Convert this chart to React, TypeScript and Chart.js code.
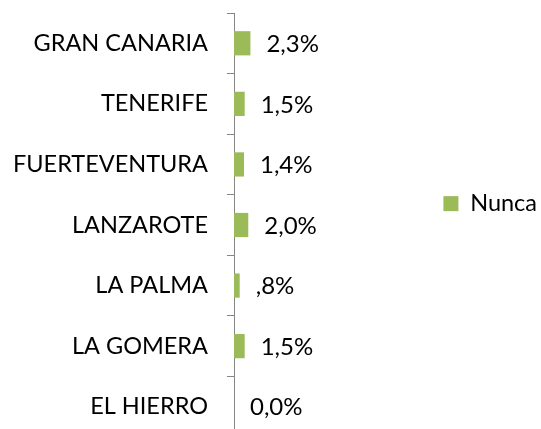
import React, { useEffect, useRef } from "react";
import { Chart, registerables } from "chart.js";

Chart.register(...registerables);

const categories = ["GRAN CANARIA", "TENERIFE", "FUERTEVENTURA", "LANZAROTE", "LA PALMA", "LA GOMERA", "EL HIERRO"];
const nuncaValues = [2.3, 1.5, 1.4, 2.0, 0.8, 1.5, 0.0];
const valueLabels = ["2,3%", "1,5%", "1,4%", "2,0%", ",8%", "1,5%", "0,0%"];
const seriesName = "Nunca";

const FONT = "Lato";

const dataLabelPlugin = {
  id: "valueLabels",
  afterDatasetsDraw(chart: any) {
    const ctx = chart.ctx;
    const meta = chart.getDatasetMeta(0);
    ctx.save();
    ctx.font = `24px ${FONT}`;
    ctx.fillStyle = "#000";
    ctx.textAlign = "left";
    ctx.textBaseline = "middle";
    meta.data.forEach((bar: any, i: number) => {
      ctx.fillText(valueLabels[i], bar.x + 16, bar.y + 1);
    });
    ctx.restore();
  },
};

export default function App() {
  const ref = useRef<HTMLCanvasElement>(null);
  useEffect(() => {
    const chart = new Chart(ref.current!, {
      type: "bar",
      data: {
        labels: categories,
        datasets: [
          {
            label: seriesName,
            data: nuncaValues,
            backgroundColor: "#9BBB59",
            barPercentage: 0.8,
            categoryPercentage: 0.5,
          },
        ],
      },
      options: {
        indexAxis: "y",
        responsive: false,
        animation: false,
        layout: { padding: { top: 13, bottom: 0, left: 0, right: -6 } },
        scales: {
          x: { display: false, min: 0, max: 29 },
          y: {
            border: { display: true, color: "#868686", width: 1 },
            grid: { drawOnChartArea: false, drawTicks: true, tickLength: 7, color: "#868686", offset: true },
            ticks: { color: "#000", font: { family: FONT, size: 23.5 }, padding: 19 },
            afterFit(scale: any) {
              scale.width = 234;
              scale.paddingTop = 0;
              scale.paddingBottom = 0;
            },
          },
        },
        plugins: {
          legend: {
            position: "right",
            align: "start",
            title: { display: true, text: "", padding: { top: 162, bottom: 0 } },
            labels: { color: "#000", font: { family: FONT, size: 23.5 }, boxWidth: 15, boxHeight: 15, padding: 2.5 },
          },
          tooltip: { enabled: false },
        },
      },
      plugins: [dataLabelPlugin],
    });
    return () => chart.destroy();
  }, []);
  return (
    <div style={{ position: "absolute", left: 0, top: 0, width: 541, height: 429, overflow: "hidden", background: "#fff" }}>
      <canvas ref={ref} width={541} height={437} style={{ display: "block" }} />
    </div>
  );
}
